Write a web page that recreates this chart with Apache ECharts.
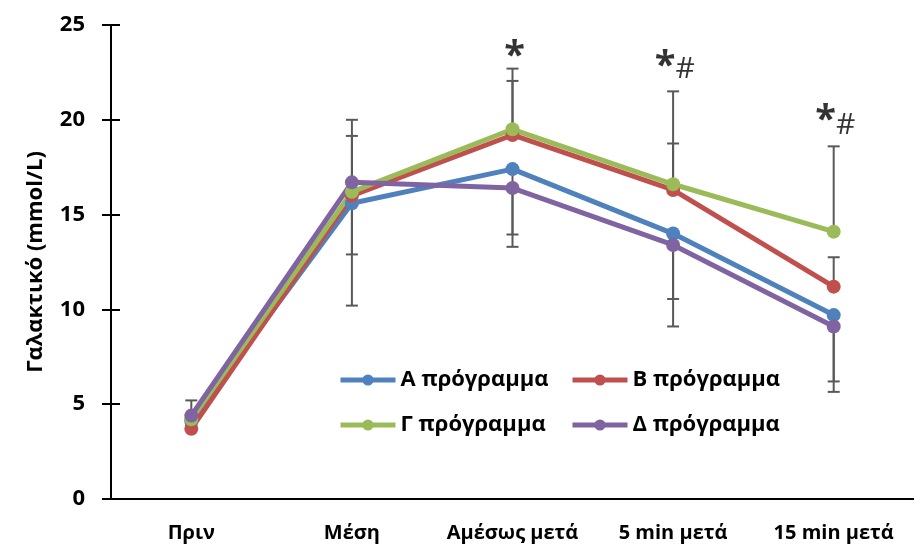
<!DOCTYPE html>
<html>
<head>
<meta charset="utf-8">
<script src="https://cdn.jsdelivr.net/npm/echarts@6/dist/echarts.min.js"></script>
<style>
	html, body { margin: 0; padding: 0; background: #fff; }
	#chart { width: 914px; height: 549px; }
</style>
</head>
<body>
<div id="chart"></div>
<script>
var categories = ['Πριν', 'Μέση', 'Αμέσως μετά', '5 min μετά', '15 min μετά'];
var seriesNames = ['Α πρόγραμμα', 'Β πρόγραμμα', 'Γ πρόγραμμα', 'Δ πρόγραμμα'];

var valuesA = [4.1, 15.6, 17.4, 14.0, 9.7];
var valuesB = [3.7, 16.0, 19.2, 16.3, 11.2];
var valuesG = [4.2, 16.2, 19.5, 16.6, 14.1];
var valuesD = [4.4, 16.7, 16.4, 13.4, 9.1];

// error bars: B and Γ only upward, A and Δ only downward
var errPlusB = [0.5, 3.15, 2.85, 2.45, 1.55];
var errPlusG = [1.0, 3.8, 3.2, 4.9, 4.5];
var errMinusA = [0.4, 2.7, 3.45, 3.45, 3.5];
var errMinusD = [0.5, 6.5, 3.1, 4.3, 3.45];

var yTicks = [0, 5, 10, 15, 20, 25];

// significance marks
var starCats = ['Αμέσως μετά', '5 min μετά', '15 min μετά'];
var starValues = [23.7, 23.2, 20.35];
var hashCats = ['5 min μετά', '15 min μετά'];
var hashValues = [22.8, 19.85];

var colors = ['#4F81BD', '#C0504D', '#9BBB59', '#8064A2'];
var font = '"Open Sans", "Liberation Sans", sans-serif';

var errData = [];
function addErr(vals, errs, dir) {
	for (var i = 0; i < vals.length; i++) {
		errData.push([i, vals[i], vals[i] + dir * errs[i]]);
	}
}
addErr(valuesB, errPlusB, 1);
addErr(valuesG, errPlusG, 1);
addErr(valuesA, errMinusA, -1);
addErr(valuesD, errMinusD, -1);

function lineSeries(name, data, color) {
	return {
		name: name,
		type: 'line',
		data: data,
		z: 3,
		symbol: 'circle',
		symbolSize: 14,
		lineStyle: { width: 5, color: color },
		itemStyle: { color: color },
		emphasis: { disabled: true }
	};
}

var starData = starCats.map(function (c, i) {
	return { value: [c, starValues[i]], label: { offset: [i === 0 ? 2 : -8, 8] } };
});
var hashData = hashCats.map(function (c, i) {
	return [c, hashValues[i]];
});

var myChart = echarts.init(document.getElementById('chart'));
var option = {
	animation: false,
	color: colors,
	grid: { left: 111, right: -3, top: 25, bottom: 50 },
	legend: [
		{ data: [seriesNames[0]], left: 333, top: 364 },
		{ data: [seriesNames[1]], left: 565, top: 364 },
		{ data: [seriesNames[2]], left: 333, top: 409 },
		{ data: [seriesNames[3]], left: 565, top: 409 }
	].map(function (l) {
		l.itemWidth = 55;
		l.itemHeight = 14;
		l.lineStyle = { width: 5 };
		l.textStyle = { fontFamily: font, fontSize: 22, fontWeight: 'bold', color: '#000' };
		l.selectedMode = false;
		return l;
	}),
	xAxis: {
		type: 'category',
		data: categories,
		axisLine: { lineStyle: { color: '#000', width: 2 } },
		axisTick: { show: false },
		axisLabel: { interval: 0, margin: 24, color: '#000', fontFamily: font, fontSize: 20, fontWeight: 'bold' }
	},
	yAxis: [{
		type: 'value',
		min: yTicks[0],
		max: yTicks[yTicks.length - 1],
		interval: 5,
		name: 'Γαλακτικό (mmol/L)',
		nameLocation: 'middle',
		nameGap: 64,
		nameTextStyle: { fontFamily: font, fontSize: 22, fontWeight: 'bold', color: '#000' },
		axisLine: { show: true, lineStyle: { color: '#000', width: 2 } },
		axisTick: { show: true, length: 9, lineStyle: { color: '#000', width: 2 } },
		axisLabel: { margin: 26, color: '#000', fontFamily: font, fontSize: 22, fontWeight: 'bold' },
		splitLine: { show: false }
	}, {
		// inner half of the crossing ticks
		type: 'value',
		position: 'left',
		min: yTicks[0],
		max: yTicks[yTicks.length - 1],
		interval: 5,
		axisLine: { show: false },
		axisTick: { show: true, inside: true, length: 9, lineStyle: { color: '#000', width: 2 } },
		axisLabel: { show: false },
		splitLine: { show: false }
	}],
	series: [
		{
			name: 'err',
			type: 'custom',
			z: 1,
			silent: true,
			data: errData,
			encode: { x: 0, y: [1, 2] },
			renderItem: function (params, api) {
				var p0 = api.coord([api.value(0), api.value(1)]);
				var p1 = api.coord([api.value(0), api.value(2)]);
				var st = { stroke: '#595959', lineWidth: 2 };
				return {
					type: 'group',
					children: [
						{ type: 'line', shape: { x1: p0[0], y1: p0[1], x2: p1[0], y2: p1[1] }, style: st },
						{ type: 'line', shape: { x1: p1[0] - 6, y1: p1[1], x2: p1[0] + 6, y2: p1[1] }, style: st }
					]
				};
			}
		},
		lineSeries(seriesNames[0], valuesA, colors[0]),
		lineSeries(seriesNames[1], valuesB, colors[1]),
		lineSeries(seriesNames[2], valuesG, colors[2]),
		lineSeries(seriesNames[3], valuesD, colors[3]),
		{
			type: 'scatter',
			silent: true,
			symbolSize: 0,
			data: starData,
			label: {
				show: true, position: 'inside', formatter: '*',
				fontFamily: font, fontSize: 38, fontWeight: 'bold', color: '#000'
			}
		},
		{
			type: 'scatter',
			silent: true,
			symbolSize: 0,
			data: hashData,
			label: {
				show: true, position: 'inside', formatter: '#', offset: [12, 3],
				fontFamily: font, fontSize: 30, color: '#000'
			}
		}
	]
};
myChart.setOption(option);
</script>
</body>
</html>
